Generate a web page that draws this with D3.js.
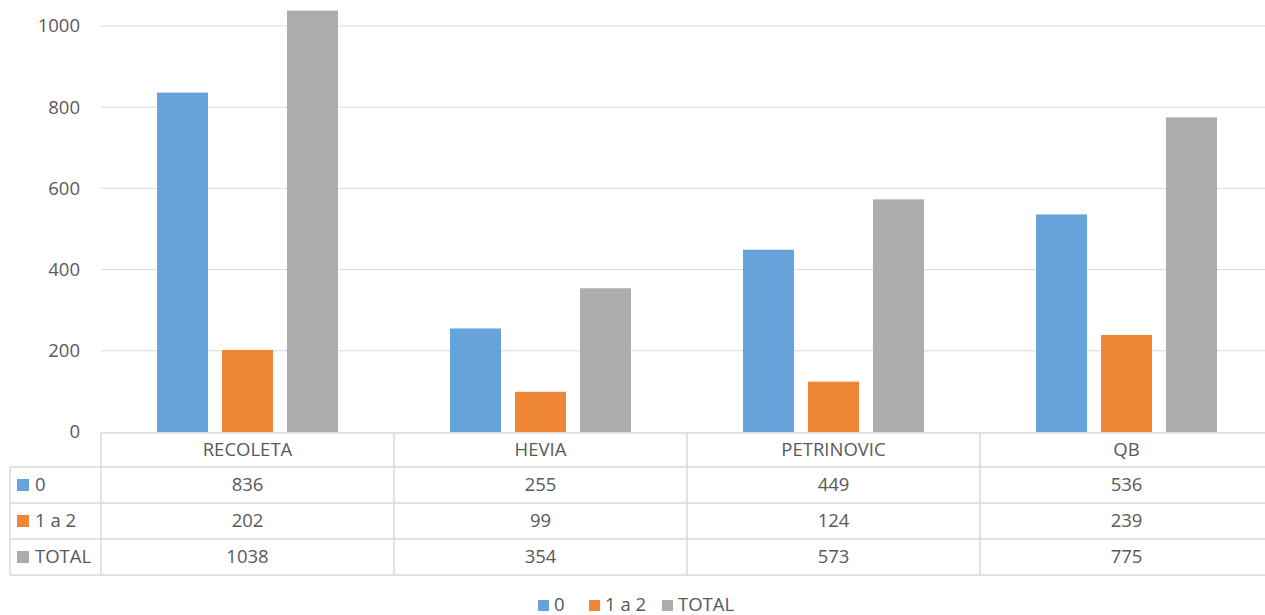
<!DOCTYPE html>
<html lang="es">
<head>
    <meta charset="utf-8">
    <script src="https://d3js.org/d3.v7.min.js"></script>
    <style>
        body { margin: 0; background: #fff; }
        text { font-family: "Open Sans", "Liberation Sans", sans-serif; fill: #595959; }
    </style>
</head>
<body>
<div id="canvas"></div>
<script>
    var categories = ["RECOLETA", "HEVIA", "PETRINOVIC", "QB"];
    var seriesNames = ["0", "1 a 2", "TOTAL"];
    var values0 = [836, 255, 449, 536];
    var values12 = [202, 99, 124, 239];
    var valuesTotal = [1038, 354, 573, 775];
    var yTicks = [0, 200, 400, 600, 800, 1000];
    var colors = ["#65a3da", "#ef8636", "#acacac"];

    var seriesValues = [values0, values12, valuesTotal];
    var fontSize = "18.5px";

    var svg = d3.select("#canvas")
        .append("svg")
        .attr("width", 1265)
        .attr("height", 615);

    var left = 101, right = 1273;
    var tableLeft = 10;
    var y = d3.scaleLinear().domain([0, 1000]).range([432, 26]);
    var x = d3.scaleBand().domain(categories).range([left, right]);
    var xs = d3.scaleBand().domain(seriesNames).range([0, x.bandwidth()])
        .paddingInner(0.215).paddingOuter(0.862);

    // gridlines
    svg.append("g")
        .selectAll("line")
        .data(yTicks.slice(1))
        .enter().append("line")
        .attr("x1", left).attr("x2", right)
        .attr("y1", function (d) { return y(d); })
        .attr("y2", function (d) { return y(d); })
        .attr("stroke", "#d9d9d9")
        .attr("stroke-width", 1);

    // y axis labels
    var yAxis = svg.append("g")
        .attr("transform", "translate(" + (left - 21) + ",0)")
        .call(d3.axisLeft(y).tickValues(yTicks).tickFormat(d3.format("d")).tickSize(0).tickPadding(0));
    yAxis.select(".domain").remove();
    yAxis.selectAll("text")
        .style("font-size", fontSize)
        .attr("fill", "#595959")
        .attr("dy", "0.32em");

    // bars
    seriesNames.forEach(function (s, i) {
        svg.append("g")
            .selectAll("rect")
            .data(seriesValues[i])
            .enter().append("rect")
            .attr("x", function (d, j) { return x(categories[j]) + xs(s); })
            .attr("width", xs.bandwidth())
            .attr("y", function (d) { return y(d); })
            .attr("height", function (d) { return y(0) - y(d); })
            .attr("fill", colors[i]);
    });

    // data table
    var rowTop = [433, 467, 503, 539, 575];
    var table = svg.append("g")
        .attr("stroke", "#d9d9d9")
        .attr("stroke-width", 1.5);

    table.append("line").attr("x1", left).attr("x2", right)
        .attr("y1", rowTop[0]).attr("y2", rowTop[0]);
    rowTop.slice(1).forEach(function (r) {
        table.append("line").attr("x1", tableLeft).attr("x2", right)
            .attr("y1", r).attr("y2", r);
    });
    table.append("line").attr("x1", tableLeft).attr("x2", tableLeft)
        .attr("y1", rowTop[1]).attr("y2", rowTop[4]);
    categories.forEach(function (c) {
        table.append("line").attr("x1", x(c)).attr("x2", x(c))
            .attr("y1", rowTop[0]).attr("y2", rowTop[4]);
    });
    table.append("line").attr("x1", right).attr("x2", right)
        .attr("y1", rowTop[0]).attr("y2", rowTop[4]);

    // header labels
    svg.append("g")
        .selectAll("text")
        .data(categories)
        .enter().append("text")
        .attr("x", function (d) { return x(d) + x.bandwidth() / 2; })
        .attr("y", (rowTop[0] + rowTop[1]) / 2)
        .attr("dy", "0.35em")
        .attr("text-anchor", "middle")
        .style("font-size", fontSize)
        .text(function (d) { return d; });

    // value rows
    seriesNames.forEach(function (s, i) {
        var cy = (rowTop[i + 1] + rowTop[i + 2]) / 2;
        var row = svg.append("g");
        row.append("rect")
            .attr("x", 17).attr("y", cy - 6)
            .attr("width", 12).attr("height", 12)
            .attr("fill", colors[i]);
        row.append("text")
            .attr("x", 35).attr("y", cy)
            .attr("dy", "0.35em")
            .style("font-size", fontSize)
            .text(s);
        row.selectAll("text.val")
            .data(seriesValues[i])
            .enter().append("text")
            .attr("class", "val")
            .attr("x", function (d, j) { return x(categories[j]) + x.bandwidth() / 2; })
            .attr("y", cy)
            .attr("dy", "0.35em")
            .attr("text-anchor", "middle")
            .style("font-size", fontSize)
            .text(function (d) { return d; });
    });

    // bottom legend
    var legendX = [538, 589, 662];
    var legend = svg.append("g");
    seriesNames.forEach(function (s, i) {
        legend.append("rect")
            .attr("x", legendX[i]).attr("y", 600)
            .attr("width", 11).attr("height", 11)
            .attr("fill", colors[i]);
        legend.append("text")
            .attr("x", legendX[i] + 16).attr("y", 605)
            .attr("dy", "0.35em")
            .style("font-size", fontSize)
            .text(s);
    });
</script>
</body>
</html>
